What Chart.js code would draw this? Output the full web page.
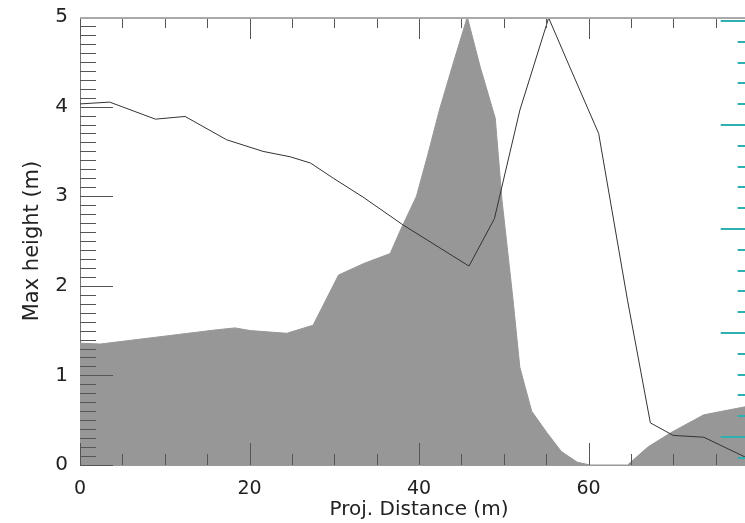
<!DOCTYPE html>
<html lang="en">
<head>
    <meta charset="UTF-8">
    <title>Max height vs projected distance</title>
    <script src="https://cdn.jsdelivr.net/npm/chart.js"></script>
    <style>
        body {
            margin: 0;
            padding: 0;
            background: #fff;
            overflow: hidden;
        }
        canvas {
            display: block;
        }
    </style>
</head>
<body>
    <canvas id="profileChart" width="770" height="523"></canvas>

    <script>
        // gray filled profile
        const fillX = [0, 2.4, 16.2, 18.3, 20.1, 24.4, 27.5, 30.5, 33.5, 36.6, 37.8, 39.7, 41.0, 42.4, 43.9, 45.7, 47.2, 49.0, 49.8, 51.1, 51.9, 53.3, 55.1, 56.8, 58.7, 60.2, 64.6, 67.0, 69.7, 73.6, 78.5, 80];
        const fillY = [1.36, 1.35, 1.51, 1.53, 1.50, 1.47, 1.56, 2.12, 2.25, 2.36, 2.62, 3.00, 3.45, 3.96, 4.44, 5.00, 4.45, 3.87, 2.95, 1.84, 1.09, 0.60, 0.36, 0.15, 0.03, 0.00, 0.00, 0.20, 0.36, 0.56, 0.65, 0.68];

        // thin black line
        const lineX = [0, 3.5, 8.9, 12.4, 17.3, 21.6, 24.8, 27.2, 29.9, 33.4, 38.1, 45.9, 48.9, 51.9, 55.3, 57.8, 61.2, 64.6, 67.3, 70.0, 73.6, 80];
        const lineY = [4.03, 4.05, 3.86, 3.89, 3.63, 3.50, 3.44, 3.37, 3.20, 2.99, 2.68, 2.22, 2.75, 3.96, 4.99, 4.44, 3.70, 1.84, 0.47, 0.33, 0.31, 0.02];

        const xTicks = [0, 20, 40, 60, 80];
        const yTicks = [0, 1, 2, 3, 4, 5];

        const fillPoints = fillX.map((v, i) => ({ x: v, y: fillY[i] }));
        const linePoints = lineX.map((v, i) => ({ x: v, y: lineY[i] }));

        function stroke(ctx, x1, y1, x2, y2) {
            ctx.beginPath();
            ctx.moveTo(x1, y1);
            ctx.lineTo(x2, y2);
            ctx.stroke();
        }

        // inward ticks, top border, and the cyan ticks of the cut-off neighbour panel
        const tickMarks = {
            id: 'tickMarks',
            afterDatasetsDraw(chart) {
                const { ctx, chartArea: a, scales } = chart;
                const x = scales.x, y = scales.y, y2 = scales.y2;
                ctx.save();
                ctx.strokeStyle = '#555';
                ctx.lineWidth = 1;
                for (let i = 0; i <= 50; i++) {
                    const py = Math.round(y.getPixelForValue(i / 10)) + 0.5;
                    const len = i % 10 === 0 ? 33 : 16;
                    stroke(ctx, a.left, py, a.left + len, py);
                }
                for (let i = 0; i <= 16; i++) {
                    const v = i * 5;
                    const px = Math.round(x.getPixelForValue(v)) + 0.5;
                    const len = v % 20 === 0 ? 22 : 11;
                    stroke(ctx, px, a.bottom, px, a.bottom - len);
                    stroke(ctx, px, a.top, px, a.top + len);
                }
                ctx.strokeStyle = '#aaa';
                ctx.lineWidth = 2;
                stroke(ctx, a.left, a.top + 1, a.right, a.top + 1);

                ctx.strokeStyle = '#2fb0b0';
                ctx.lineWidth = 2;
                for (let i = -1; i <= 20; i++) {
                    const v = i / 5;
                    const py = Math.round(y2.getPixelForValue(v));
                    if (py < a.top || py > a.bottom) continue;
                    const x0 = x.getPixelForValue(i % 5 === 0 ? 75.6 : 77.6);
                    stroke(ctx, x0, py, a.right, py);
                }
                ctx.restore();
            }
        };

        const ctx = document.getElementById('profileChart').getContext('2d');
        new Chart(ctx, {
            type: 'line',
            data: {
                datasets: [
                    {
                        label: 'line',
                        data: linePoints,
                        borderColor: '#333',
                        borderWidth: 1,
                        pointRadius: 0,
                        fill: false,
                        tension: 0,
                        order: 0
                    },
                    {
                        label: 'profile',
                        data: fillPoints,
                        borderColor: '#979797',
                        backgroundColor: '#979797',
                        borderWidth: 1,
                        pointRadius: 0,
                        fill: 'origin',
                        tension: 0,
                        order: 1
                    }
                ]
            },
            options: {
                responsive: false,
                animation: false,
                layout: { padding: { top: 17, right: 12, bottom: 0, left: 0 } },
                plugins: {
                    legend: { display: false },
                    tooltip: { enabled: false }
                },
                scales: {
                    x: {
                        type: 'linear',
                        min: 0,
                        max: 80,
                        afterBuildTicks: s => { s.ticks = xTicks.map(v => ({ value: v })); },
                        afterFit: s => {
                            s.height = 58;
                            s.paddingLeft = 0;
                            s.paddingRight = 0;
                        },
                        grid: { display: false, drawTicks: false },
                        border: { display: true, color: '#999', width: 1 },
                        ticks: {
                            padding: 13,
                            maxRotation: 0,
                            color: '#222',
                            font: { family: 'DejaVu Sans', size: 19 }
                        },
                        title: {
                            display: true,
                            text: 'Proj. Distance (m)',
                            color: '#222',
                            padding: { top: 0, bottom: 1 },
                            font: { family: 'DejaVu Sans', size: 20 }
                        }
                    },
                    y: {
                        min: 0,
                        max: 5,
                        afterBuildTicks: s => { s.ticks = yTicks.map(v => ({ value: v })); },
                        afterFit: s => {
                            s.width = 80;
                            s.paddingTop = 0;
                            s.paddingBottom = 0;
                        },
                        grid: { display: false, drawTicks: false },
                        border: { display: true, color: '#777', width: 1 },
                        ticks: {
                            padding: 12,
                            color: '#222',
                            font: { family: 'DejaVu Sans', size: 20 }
                        },
                        title: {
                            display: true,
                            text: 'Max height (m)',
                            color: '#222',
                            padding: { top: 20, bottom: 0 },
                            font: { family: 'DejaVu Sans', size: 21 }
                        }
                    },
                    y2: {
                        display: false,
                        min: -0.269,
                        max: 4.038
                    }
                }
            },
            plugins: [tickMarks]
        });
    </script>
</body>
</html>
